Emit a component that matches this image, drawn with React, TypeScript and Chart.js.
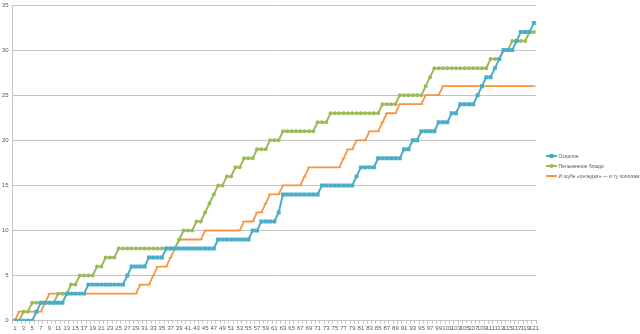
import React, { useEffect, useRef } from "react";
import { Chart, registerables } from "chart.js";

Chart.register(...registerables);

const categories: string[] = Array.from({ length: 121 }, (_, i) => String(i + 1));

const seriesNames = ["Оскалон", "Пельменное блюдо", "И шубе «селедки» — и ту пополам"];

const oskalon = [
  0, 0, 0, 0, 0, 1, 2, 2, 2, 2,
  2, 2, 3, 3, 3, 3, 3, 4, 4, 4,
  4, 4, 4, 4, 4, 4, 5, 6, 6, 6,
  6, 7, 7, 7, 7, 8, 8, 8, 8, 8,
  8, 8, 8, 8, 8, 8, 8, 9, 9, 9,
  9, 9, 9, 9, 9, 10, 10, 11, 11, 11,
  11, 12, 14, 14, 14, 14, 14, 14, 14, 14,
  14, 15, 15, 15, 15, 15, 15, 15, 15, 16,
  17, 17, 17, 17, 18, 18, 18, 18, 18, 18,
  19, 19, 20, 20, 21, 21, 21, 21, 22, 22,
  22, 23, 23, 24, 24, 24, 24, 25, 26, 27,
  27, 28, 29, 30, 30, 30, 31, 32, 32, 32,
  33,
];

const pelmeni = [
  0, 0, 1, 1, 2, 2, 2, 2, 2, 2,
  3, 3, 3, 4, 4, 5, 5, 5, 5, 6,
  6, 7, 7, 7, 8, 8, 8, 8, 8, 8,
  8, 8, 8, 8, 8, 8, 8, 8, 9, 10,
  10, 10, 11, 11, 12, 13, 14, 15, 15, 16,
  16, 17, 17, 18, 18, 18, 19, 19, 19, 20,
  20, 20, 21, 21, 21, 21, 21, 21, 21, 21,
  22, 22, 22, 23, 23, 23, 23, 23, 23, 23,
  23, 23, 23, 23, 23, 24, 24, 24, 24, 25,
  25, 25, 25, 25, 25, 26, 27, 28, 28, 28,
  28, 28, 28, 28, 28, 28, 28, 28, 28, 28,
  29, 29, 29, 30, 30, 31, 31, 31, 31, 32,
  32,
];

const shuba = [
  0, 1, 1, 1, 1, 1, 1, 2, 3, 3,
  3, 3, 3, 3, 3, 3, 3, 3, 3, 3,
  3, 3, 3, 3, 3, 3, 3, 3, 3, 4,
  4, 4, 5, 6, 6, 6, 7, 8, 9, 9,
  9, 9, 9, 9, 10, 10, 10, 10, 10, 10,
  10, 10, 10, 11, 11, 11, 12, 12, 13, 14,
  14, 14, 15, 15, 15, 15, 15, 16, 17, 17,
  17, 17, 17, 17, 17, 17, 18, 19, 19, 20,
  20, 20, 21, 21, 21, 22, 23, 23, 23, 24,
  24, 24, 24, 24, 24, 25, 25, 25, 25, 26,
  26, 26, 26, 26, 26, 26, 26, 26, 26, 26,
  26, 26, 26, 26, 26, 26, 26, 26, 26, 26,
  26,
];

const yTicks = [0, 5, 10, 15, 20, 25, 30, 35];

const BLUE = "#4BACC6";
const GREEN = "#9BBB59";
const ORANGE = "#F79646";
const GRID = "#c4c4c4";
const TEXT = "#595959";
const FONT = "Liberation Sans";

const legendPlugin = {
  id: "customLegend",
  afterDraw(chart: any) {
    const ctx = chart.ctx as CanvasRenderingContext2D;
    const items = [
      { label: seriesNames[0], color: BLUE, marker: "rect" },
      { label: seriesNames[1], color: GREEN, marker: "circle" },
      { label: seriesNames[2], color: ORANGE, marker: "none" },
    ];
    ctx.save();
    ctx.font = `5px "${FONT}"`;
    ctx.textBaseline = "middle";
    items.forEach((it, k) => {
      const y = 156 + k * 10;
      ctx.strokeStyle = it.color;
      ctx.lineWidth = 2;
      ctx.beginPath();
      ctx.moveTo(546, y);
      ctx.lineTo(557, y);
      ctx.stroke();
      ctx.fillStyle = it.color;
      if (it.marker === "rect") {
        ctx.fillRect(549.5, y - 2, 4, 4);
      } else if (it.marker === "circle") {
        ctx.beginPath();
        ctx.arc(551.5, y, 2, 0, Math.PI * 2);
        ctx.fill();
      }
      ctx.fillStyle = TEXT;
      ctx.fillText(it.label, 558.5, y + 0.5);
    });
    ctx.restore();
  },
};

export default function App() {
  const ref = useRef<HTMLCanvasElement | null>(null);

  useEffect(() => {
    if (!ref.current) return;
    const chart = new Chart(ref.current, {
      type: "line",
      data: {
        labels: categories,
        datasets: [
          {
            label: seriesNames[0],
            data: oskalon,
            borderColor: BLUE,
            backgroundColor: BLUE,
            borderWidth: 2,
            pointStyle: "rect",
            pointRadius: 2.8,
            pointBorderWidth: 0,
            tension: 0,
          },
          {
            label: seriesNames[1],
            data: pelmeni,
            borderColor: GREEN,
            backgroundColor: GREEN,
            borderWidth: 2,
            pointStyle: "circle",
            pointRadius: 2,
            pointBorderWidth: 0,
            tension: 0,
          },
          {
            label: seriesNames[2],
            data: shuba,
            borderColor: ORANGE,
            backgroundColor: ORANGE,
            borderWidth: 1.8,
            pointStyle: "line",
            pointRadius: 2,
            pointBorderWidth: 1,
            tension: 0,
          },
        ],
      },
      options: {
        responsive: false,
        animation: false,
        layout: { padding: { top: 3.3, right: 104, left: 0, bottom: 0 } },
        plugins: {
          legend: { display: false },
          tooltip: { enabled: false },
        },
        scales: {
          x: {
            type: "category",
            offset: true,
            grid: {
              display: true,
              drawOnChartArea: false,
              drawTicks: true,
              tickLength: 3,
              color: GRID,
              offset: true,
            },
            border: { display: true, color: GRID },
            ticks: {
              autoSkip: false,
              maxRotation: 0,
              minRotation: 0,
              padding: 1,
              color: TEXT,
              font: { family: FONT, size: 6 },
              callback: (_v: any, i: number) => (i % 2 === 0 ? categories[i] : ""),
            },
            afterFit: (s: any) => {
              s.height = 13.3;
              s.paddingLeft = 0;
              s.paddingRight = 0;
            },
          },
          y: {
            min: 0,
            max: 35,
            afterBuildTicks: (s: any) => {
              s.ticks = yTicks.map((v) => ({ value: v }));
            },
            grid: { color: GRID, drawTicks: false },
            border: { display: true, color: GRID },
            ticks: {
              padding: 4,
              color: TEXT,
              font: { family: FONT, size: 6 },
            },
            afterFit: (s: any) => {
              s.width = 12.7;
              s.paddingTop = 0;
              s.paddingBottom = 0;
            },
          },
        },
      },
      plugins: [legendPlugin],
    });
    return () => chart.destroy();
  }, []);

  return (
    <div style={{ position: "absolute", left: 0, top: 0, width: 640, height: 334, background: "#fff" }}>
      <canvas ref={ref} width={640} height={334} style={{ width: 640, height: 334 }} />
    </div>
  );
}
